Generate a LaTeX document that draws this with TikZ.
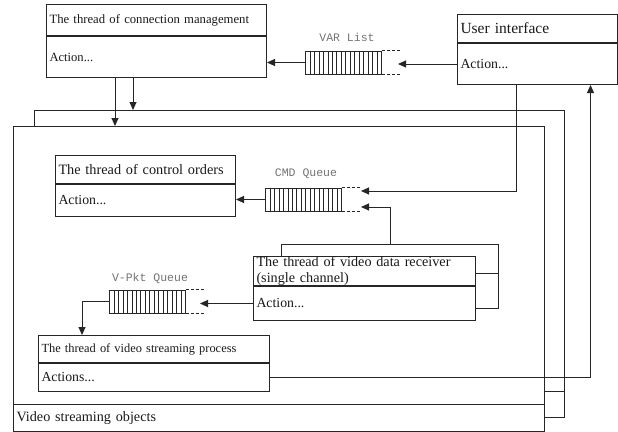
\documentclass[tikz,border=0pt]{standalone}
\usepackage{fontspec}
\setmainfont{Liberation Serif}
\newfontfamily\qfont{Liberation Mono}
\usetikzlibrary{arrows.meta}
\newcommand\fsz[1]{\fontsize{#1}{#1}\selectfont}
\tikzset{
  cell/.style={draw=black!85, fill=white, anchor=north west, inner xsep=3pt, inner ysep=0pt, align=left, text=black!90},
  queue/.style={draw=black!85, fill=white, anchor=north west, minimum width=76pt, minimum height=23pt, inner sep=0pt,
    path picture={\foreach \i in {1,...,16}{\draw[line width=0.7pt] ([xshift={\i*4.47pt}]path picture bounding box.south west) -- ([xshift={\i*4.47pt}]path picture bounding box.north west);}}},
  qlabel/.style={font=\qfont\fsz{11.5}, text=black!55, inner sep=0pt},
  qdash/.style={draw=black!85, dashed, dash pattern=on 3pt off 2pt},
  arr/.style={draw=black!85, -{Triangle[length=8pt,width=7pt]}},
  wire/.style={draw=black!85}
}
\begin{document}
\begin{tikzpicture}[x=1pt,y=-1pt,line width=1pt]
\clip (0,0) rectangle (618,431);
% stacked video streaming objects
\node[cell, text width=524pt, minimum height=281pt] (obBT) at (34,110) {};
\node[cell, text width=524pt, minimum height=26pt] (obBB) at (34,391) {};
\node[cell, text width=525pt, minimum height=278pt] (obFT) at (13,126) {};
\node[cell, text width=525pt, minimum height=26.5pt, font=\fsz{14.2}] (obFB) at (13,404) {Video streaming objects};
% connection management
\node[cell, text width=214pt, minimum height=31pt, font=\fsz{12.7}] (cmT) at (46,4) {The thread of connection management};
\node[cell, text width=214pt, minimum height=41pt, font=\fsz{12.6}] (cmA) at (cmT.south west) {Action...};
% user interface
\node[cell, text width=154pt, minimum height=28pt, font=\fsz{15.5}] (uiT) at (457,14) {User interface};
\node[cell, text width=154pt, minimum height=41pt, font=\fsz{13.8}] (uiA) at (uiT.south west) {Action...};
% control orders
\node[cell, text width=174pt, minimum height=28pt, font=\fsz{14.3}] (coT) at (55,155) {The thread of control orders};
\node[cell, text width=174pt, minimum height=32pt, font=\fsz{13.8}] (coA) at (coT.south west) {Action...};
% receiver (stacked)
\node[cell, text width=211pt, minimum height=29pt] (recBT) at (281,244) {};
\node[cell, text width=211pt, minimum height=35pt] (recBB) at (281,273) {};
\node[cell, text width=216pt, minimum height=29pt, font=\fontsize{14.2}{15.6}\selectfont] (recT) at (253,256) {The thread of video data receiver\\(single channel)};
\node[cell, text width=216pt, minimum height=34pt, font=\fsz{13.8}] (recA) at (recT.south west) {Action...};
% streaming process
\node[cell, text width=225pt, minimum height=27pt, font=\fsz{12.4}] (stT) at (38,335) {The thread of video streaming process};
\node[cell, text width=225pt, minimum height=28pt, font=\fsz{13.8}] (stA) at (stT.south west) {Actions...};
% queues
\node[queue] (q1) at (305,50.5) {};
\node[qlabel] (q1l) at (347,37) {VAR List};
\draw[qdash] (q1.north east) -- ++(18,0);
\draw[qdash] (q1.south east) -- ++(18,0);
\node[queue] (q2) at (265,187.5) {};
\node[qlabel] (q2l) at (306,174) {CMD Queue};
\draw[qdash] (q2.north east) -- ++(18,0);
\draw[qdash] (q2.south east) -- ++(18,0);
\node[queue] (q3) at (109,289.5) {};
\node[qlabel] (q3l) at (150,278) {V-Pkt Queue};
\draw[qdash] (q3.north east) -- ++(18,0);
\draw[qdash] (q3.south east) -- ++(18,0);
% coordinates
\coordinate (q1in) at ([xshift=16pt]q1.east);
\coordinate (q2a) at (361,191);
\coordinate (q2b) at (361,207);
\coordinate (q3in) at ([xshift=14pt]q3.east);
\coordinate (cm1) at ([xshift=69pt]cmA.south west);
\coordinate (cm2) at ([xshift=87pt]cmA.south west);
\coordinate (ui1) at ([xshift=-21pt]uiA.south);
\coordinate (ui2) at ([xshift=53pt]uiA.south);
\coordinate (st1) at ([xshift=44pt]stT.north west);
% connectors
\draw[arr] (uiA.west) -- (uiA.west -| q1in);
\draw[arr] (q1.west) -- (q1.west -| cmA.east);
\draw[arr] (cm1) -- (cm1 |- obFT.north);
\draw[arr] (cm2) -- (cm2 |- obBT.north);
\draw[arr] (ui1) |- (q2a);
\draw[arr] (recBT.north) |- (q2b);
\draw[arr] (q2.west) -- (q2.west -| coA.east);
\draw[arr] (recA.west) -- (recA.west -| q3in);
\draw[arr] (q3.west) -| (st1);
\draw[arr] (stA.east) -| (ui2);
\end{tikzpicture}
\end{document}
